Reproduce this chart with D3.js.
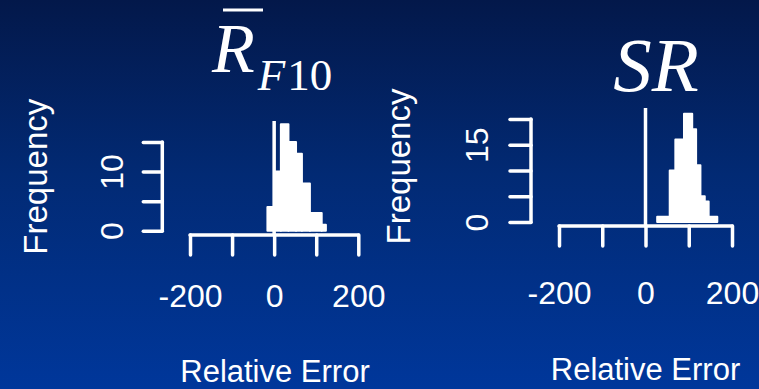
<!DOCTYPE html>
<html>
<head>
<meta charset="utf-8">
<script src="https://cdn.jsdelivr.net/npm/d3@7"></script>
<style>
body { margin: 0; overflow: hidden; }
svg { display: block; }
</style>
</head>
<body>
<div id="chart"></div>
<script>
// Histogram readings: bin edges + counts for each panel
const rfBreaks = [-16, 0, 16, 34, 52, 66, 85, 113, 123];
const rfCounts = [4, 10, 18, 15, 13, 8, 3, 1];
const srBreaks = [27, 56, 69, 89, 108, 117, 127, 137, 146, 166];
const srCounts = [1, 10, 16, 21, 18, 11, 5, 4, 1];

// Ticks and which of them carry a label
const xTicks = [-200, -100, 0, 100, 200];
const xLabels = [-200, 0, 200];
const rfYTicks = [0, 5, 10, 15];
const rfYLabels = [0, 10];
const srYTicks = [0, 5, 10, 15, 20];
const srYLabels = [0, 15];

const width = 759;
const height = 389;
const sans = "'Liberation Sans', Arial, sans-serif";
const serif = "'Liberation Serif', 'Times New Roman', serif";

const svg = d3.select('#chart')
    .append('svg')
    .attr('width', width)
    .attr('height', height);

// background gradient
const grad = svg.append('defs').append('linearGradient')
    .attr('id', 'bg')
    .attr('x1', 0).attr('y1', 0).attr('x2', 0).attr('y2', 1);
grad.append('stop').attr('offset', '0%').attr('stop-color', '#03184a');
grad.append('stop').attr('offset', '45%').attr('stop-color', '#022a74');
grad.append('stop').attr('offset', '100%').attr('stop-color', '#00379b');
svg.append('rect')
    .attr('width', width)
    .attr('height', height)
    .attr('fill', 'url(#bg)');

// panel layout (pixels)
const panels = [
    {
        breaks: rfBreaks, counts: rfCounts,
        yTicks: rfYTicks, yLabels: rfYLabels, yMax: 15,
        xRange: [190, 358.3], yRange: [230.7, 142],
        xAxisY: 235, xTick: 20, xLabelBase: 307,
        yAxisX: 162.3, yTick: 19, yLabelOff: 39,
        vTop: 121,
        freq: { x: 47, y: 176.7, size: 33 },
        rel: { x: 275, y: 382 }
    },
    {
        breaks: srBreaks, counts: srCounts,
        yTicks: srYTicks, yLabels: srYLabels, yMax: 20,
        xRange: [559, 732], yRange: [222, 119],
        xAxisY: 226, xTick: 20, xLabelBase: 303.5,
        yAxisX: 531, yTick: 21, yLabelOff: 43,
        vTop: 108,
        freq: { x: 410, y: 166.5, size: 33 },
        rel: { x: 645.5, y: 380 }
    }
];

function styleAxis(g) {
    g.selectAll('path, line')
        .attr('stroke', '#ffffff')
        .attr('stroke-width', 3.5)
        .attr('stroke-linecap', 'round')
        .attr('fill', 'none');
    g.selectAll('text')
        .attr('fill', '#ffffff')
        .attr('font-family', sans)
        .attr('font-size', 32);
}

panels.forEach(p => {
    const x = d3.scaleLinear().domain([-200, 200]).range(p.xRange);
    const y = d3.scaleLinear().domain([0, p.yMax]).range(p.yRange);

    const bins = p.counts.map((c, i) => ({ x0: p.breaks[i], x1: p.breaks[i + 1], n: c }));

    // bars
    svg.append('g').selectAll('rect')
        .data(bins)
        .join('rect')
        .attr('x', d => x(d.x0))
        .attr('width', d => x(d.x1) - x(d.x0))
        .attr('y', d => y(d.n))
        .attr('height', d => y(0) - y(d.n))
        .attr('fill', '#ffffff')
        .attr('stroke', '#ffffff')
        .attr('stroke-width', 2)
        .attr('stroke-linejoin', 'round');

    // reference line at zero
    svg.append('line')
        .attr('x1', x(0)).attr('x2', x(0))
        .attr('y1', p.vTop).attr('y2', p.xAxisY)
        .attr('stroke', '#ffffff')
        .attr('stroke-width', 3.5);

    // x axis
    const gx = svg.append('g')
        .attr('transform', `translate(0, ${p.xAxisY})`)
        .call(d3.axisBottom(x)
            .tickValues(xTicks)
            .tickSize(p.xTick)
            .tickSizeOuter(0)
            .tickFormat(d => xLabels.includes(d) ? d3.format('d')(d) : ''));
    styleAxis(gx);
    gx.select('.domain').attr('d', `M${p.xRange[0]},0H${p.xRange[1]}`);
    gx.selectAll('text')
        .attr('y', p.xLabelBase - p.xAxisY)
        .attr('dy', 0)
        .text(d => xLabels.includes(d) ? (d < 0 ? '-' + Math.abs(d) : d) : '');

    // y axis, labels parallel to the axis
    const gy = svg.append('g')
        .attr('transform', `translate(${p.yAxisX}, 0)`)
        .call(d3.axisLeft(y)
            .tickValues(p.yTicks)
            .tickSize(p.yTick)
            .tickSizeOuter(0)
            .tickFormat(d => p.yLabels.includes(d) ? d : ''));
    styleAxis(gy);
    gy.select('.domain').attr('d', `M0,${y(0)}V${y(d3.max(p.yTicks))}`);
    gy.selectAll('text')
        .attr('x', 0).attr('y', 0).attr('dy', 0)
        .attr('text-anchor', 'middle')
        .attr('transform', `translate(${-p.yLabelOff}, 0) rotate(-90)`);

    // axis titles
    svg.append('text')
        .attr('transform', `translate(${p.freq.x}, ${p.freq.y}) rotate(-90)`)
        .attr('text-anchor', 'middle')
        .attr('fill', '#ffffff')
        .attr('font-family', sans)
        .attr('font-size', p.freq.size)
        .text('Frequency');

    svg.append('text')
        .attr('x', p.rel.x).attr('y', p.rel.y)
        .attr('text-anchor', 'middle')
        .attr('fill', '#ffffff')
        .attr('font-family', sans)
        .attr('font-size', 31)
        .text('Relative Error');
});

// Panel titles
const t1 = svg.append('text')
    .attr('x', 212).attr('y', 72)
    .attr('fill', '#ffffff')
    .attr('font-family', serif)
    .attr('font-size', 70);
t1.append('tspan').attr('font-style', 'italic').text('R');
t1.append('tspan').attr('font-size', 45).attr('dy', 18).attr('dx', 3)
    .attr('font-style', 'italic').text('F');
t1.append('tspan').attr('font-size', 45).attr('dx', 2).text('10');
svg.append('line')
    .attr('x1', 223).attr('x2', 263)
    .attr('y1', 10).attr('y2', 10)
    .attr('stroke', '#ffffff')
    .attr('stroke-width', 3);

svg.append('text')
    .attr('x', 656).attr('y', 91)
    .attr('text-anchor', 'middle')
    .attr('fill', '#ffffff')
    .attr('font-family', serif)
    .attr('font-style', 'italic')
    .attr('font-size', 77)
    .text('SR');
</script>
</body>
</html>
